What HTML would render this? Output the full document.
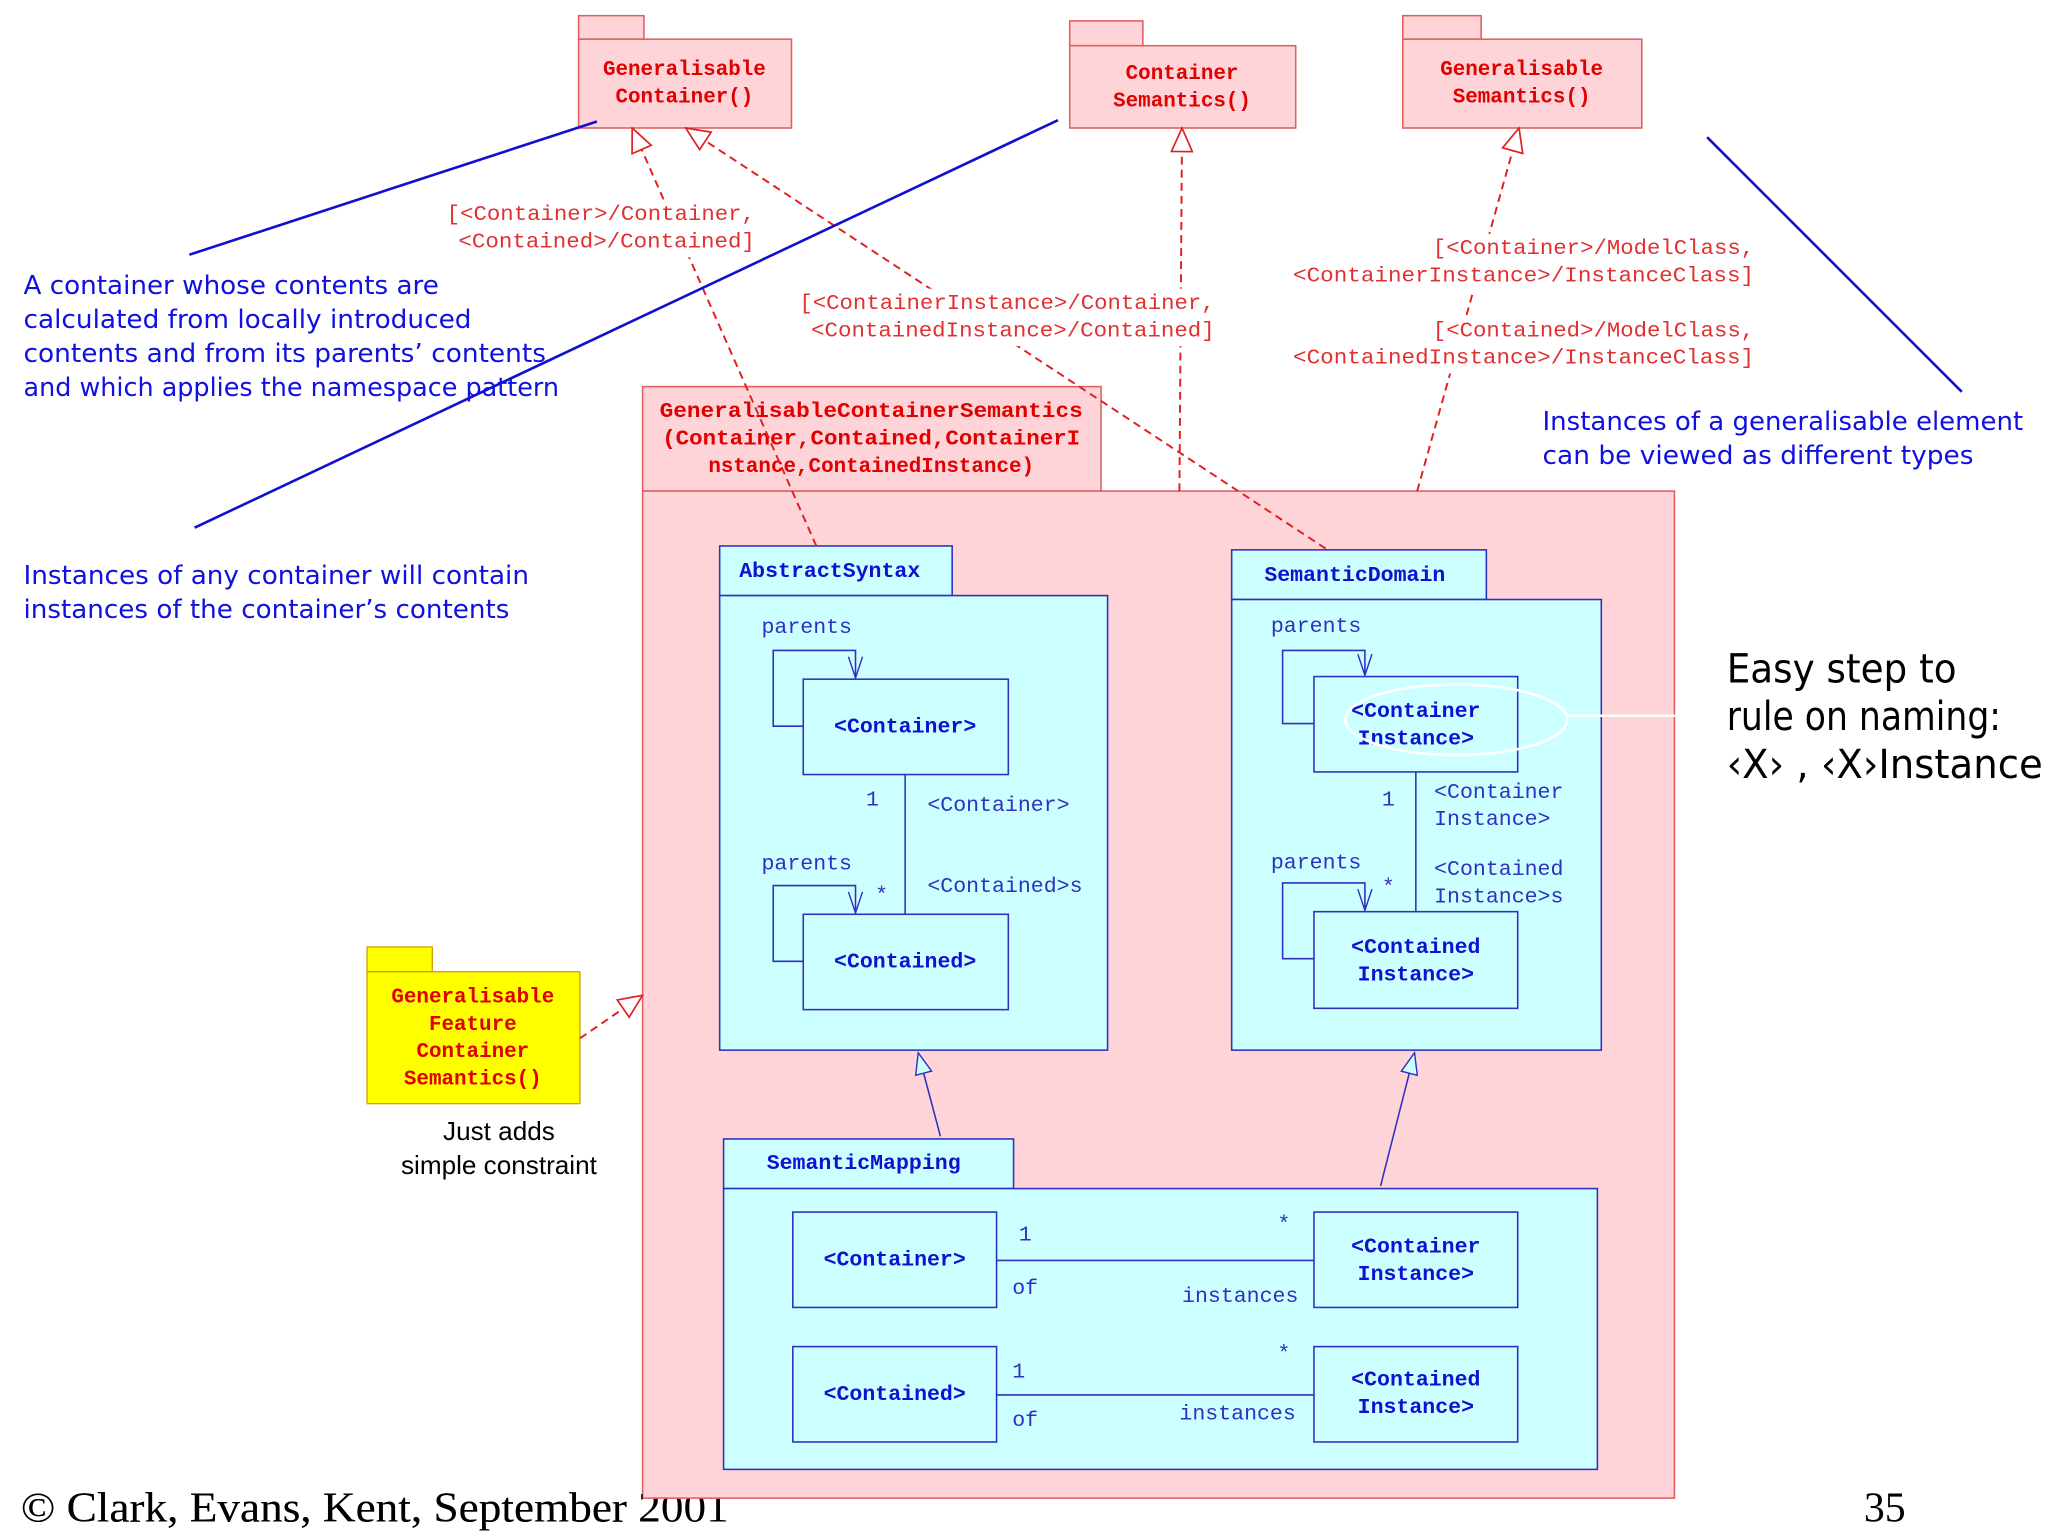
<!DOCTYPE html>
<html><head><meta charset="utf-8"><style>
html,body{margin:0;padding:0;background:#fff;}
svg{display:block;}
.pk{font-family:"Liberation Mono",monospace;font-weight:bold;font-size:16px;fill:#e00000;}
.rl{font-family:"Liberation Mono",monospace;font-size:16px;fill:#e03030;}
.bb{font-family:"Liberation Mono",monospace;font-weight:bold;font-size:16.5px;fill:#1010d0;}
.bl{font-family:"Liberation Mono",monospace;font-size:16.5px;fill:#3030c0;}
.cm{font-family:"DejaVu Sans","Liberation Sans",sans-serif;font-size:20px;fill:#1010e0;}
.ez{font-family:"DejaVu Sans","Liberation Sans",sans-serif;font-size:31px;fill:#000;}
</style></head><body>
<svg width="2048" height="1536" viewBox="0 0 1568 1176" xmlns="http://www.w3.org/2000/svg">
<defs>
<marker id="tri" viewBox="0 0 20 20" refX="19" refY="10" markerWidth="20" markerHeight="20" markerUnits="userSpaceOnUse" orient="auto">
<path d="M1,2 L19,10 L1,18 Z" fill="#fff" stroke="#e02020" stroke-width="1.3"/></marker>
<marker id="trib" viewBox="0 0 20 20" refX="19" refY="10" markerWidth="18" markerHeight="18" markerUnits="userSpaceOnUse" orient="auto">
<path d="M1,3 L19,10 L1,17 Z" fill="#ccffff" stroke="#3030c0" stroke-width="1.2"/></marker>
<marker id="opn" viewBox="0 0 20 20" refX="19" refY="10" markerWidth="18" markerHeight="18" markerUnits="userSpaceOnUse" orient="auto">
<path d="M1,4 L19,10 L1,16" fill="none" stroke="#3030c0" stroke-width="1.2"/></marker>
</defs>
<rect width="1568" height="1176" fill="#fff"/>

<g font-family="Liberation Serif, serif" font-size="32" dominant-baseline="central">
<text x="16" y="1155" textLength="542" lengthAdjust="spacingAndGlyphs">© Clark, Evans, Kent, September 2001</text>
<text x="1427" y="1155">35</text>
</g>

<!-- top packages -->
<g fill="#ffd4d8" stroke="#e06060" stroke-width="1.2">
<rect x="443" y="12" width="50" height="18"/><rect x="443" y="30" width="163" height="68"/>
<rect x="819" y="16" width="56" height="19"/><rect x="819" y="35" width="173" height="63"/>
<rect x="1074" y="12" width="60" height="18"/><rect x="1074" y="30" width="183" height="68"/>
<rect x="492" y="296" width="351" height="80"/><rect x="492" y="376" width="790" height="771"/>
</g>
<g class="pk" text-anchor="middle" dominant-baseline="central">
<text x="524" y="54">Generalisable</text><text x="524" y="75">Container()</text>
<text x="905" y="57">Container</text><text x="905" y="78">Semantics()</text>
<text x="1165" y="54">Generalisable</text><text x="1165" y="75">Semantics()</text>
<text x="667" y="316" textLength="324" lengthAdjust="spacingAndGlyphs">GeneralisableContainerSemantics</text>
<text x="667" y="337" textLength="320" lengthAdjust="spacingAndGlyphs">(Container,Contained,ContainerI</text>
<text x="667" y="358">nstance,ContainedInstance)</text>
</g>

<!-- yellow package -->
<rect x="281" y="725" width="50" height="19" fill="#ffff00" stroke="#d0a000"/>
<rect x="281" y="744" width="163" height="101" fill="#ffff00" stroke="#d0a000"/>
<g class="pk" text-anchor="middle" dominant-baseline="central">
<text x="362" y="764">Generalisable</text><text x="362" y="785">Feature</text>
<text x="362" y="806">Container</text><text x="362" y="827">Semantics()</text>
</g>

<!-- cyan packages -->
<g fill="#ccffff" stroke="#3030c0" stroke-width="1.2">
<rect x="551" y="418" width="178" height="38"/><rect x="551" y="456" width="297" height="348"/>
<rect x="943" y="421" width="195" height="38"/><rect x="943" y="459" width="283" height="345"/>
<rect x="554" y="872" width="222" height="38"/><rect x="554" y="910" width="669" height="215"/>
<rect x="615" y="520" width="157" height="73"/><rect x="615" y="700" width="157" height="73"/>
<rect x="1006" y="518" width="156" height="73"/><rect x="1006" y="698" width="156" height="74"/>
<rect x="607" y="928" width="156" height="73"/><rect x="1006" y="928" width="156" height="73"/>
<rect x="607" y="1031" width="156" height="73"/><rect x="1006" y="1031" width="156" height="73"/>
</g>
<g fill="none" stroke="#3030c0" stroke-width="1.2">
<path d="M615,556 H592 V498 H655 V519" marker-end="url(#opn)"/>
<path d="M615,736 H592 V678 H655 V699" marker-end="url(#opn)"/>
<path d="M1006,554 H982 V498 H1045 V517" marker-end="url(#opn)"/>
<path d="M1006,734 H982 V676 H1045 V697" marker-end="url(#opn)"/>
<line x1="693" y1="593" x2="693" y2="700"/><line x1="1084" y1="591" x2="1084" y2="698"/>
<line x1="763" y1="965" x2="1006" y2="965"/><line x1="763" y1="1068" x2="1006" y2="1068"/>
<line x1="720" y1="870" x2="703" y2="806" marker-end="url(#trib)"/>
<line x1="1057" y1="908" x2="1083" y2="806" marker-end="url(#trib)"/>
</g>
<g class="bb" dominant-baseline="central">
<text x="566" y="438">AbstractSyntax</text><text x="968" y="441">SemanticDomain</text><text x="587" y="891">SemanticMapping</text>
</g>
<g class="bb" text-anchor="middle" dominant-baseline="central">
<text x="693" y="557">&lt;Container&gt;</text><text x="693" y="737">&lt;Contained&gt;</text>
<text x="1084" y="545">&lt;Container</text><text x="1084" y="566">Instance&gt;</text>
<text x="1084" y="726">&lt;Contained</text><text x="1084" y="747">Instance&gt;</text>
<text x="685" y="965">&lt;Container&gt;</text><text x="685" y="1068">&lt;Contained&gt;</text>
<text x="1084" y="955">&lt;Container</text><text x="1084" y="976">Instance&gt;</text>
<text x="1084" y="1057">&lt;Contained</text><text x="1084" y="1078">Instance&gt;</text>
</g>
<g class="bl" dominant-baseline="central">
<text x="583" y="481">parents</text><text x="583" y="662">parents</text>
<text x="973" y="480">parents</text><text x="973" y="661">parents</text>
<text x="663" y="613">1</text><text x="670" y="686">*</text>
<text x="710" y="617">&lt;Container&gt;</text><text x="710" y="679">&lt;Contained&gt;s</text>
<text x="1058" y="613">1</text><text x="1058" y="680">*</text>
<text x="1098" y="607">&lt;Container</text><text x="1098" y="628">Instance&gt;</text>
<text x="1098" y="666">&lt;Contained</text><text x="1098" y="687">Instance&gt;s</text>
<text x="780" y="946">1</text><text x="978" y="938">*</text><text x="775" y="987">of</text><text x="905" y="993">instances</text>
<text x="775" y="1051">1</text><text x="978" y="1037">*</text><text x="775" y="1088">of</text><text x="903" y="1083">instances</text>
</g>
<ellipse cx="1115" cy="551" rx="85" ry="27" fill="none" stroke="#fff" stroke-width="2"/>
<line x1="1200" y1="548" x2="1283" y2="548" stroke="#fff" stroke-width="2"/>

<!-- red dashed dependencies -->
<g fill="none" stroke="#e02020" stroke-width="1.5" stroke-dasharray="6,4">
<line x1="625" y1="418" x2="484" y2="98" marker-end="url(#tri)"/>
<line x1="1015" y1="420" x2="525" y2="98" marker-end="url(#tri)"/>
<line x1="903" y1="376" x2="905" y2="98" marker-end="url(#tri)"/>
<line x1="1085" y1="376" x2="1163" y2="98" marker-end="url(#tri)"/>
<line x1="444" y1="795" x2="492" y2="762" marker-end="url(#tri)"/>
</g>
<g fill="#fff">
<rect x="340" y="153" width="240" height="44"/>
<rect x="610" y="221" width="322" height="44"/>
<rect x="988" y="179" width="357" height="44"/>
<rect x="988" y="242" width="357" height="44"/>
</g>
<g class="rl" dominant-baseline="central">
<text x="342" y="165" textLength="236" lengthAdjust="spacingAndGlyphs">[&lt;Container&gt;/Container,</text>
<text x="351" y="186" textLength="227" lengthAdjust="spacingAndGlyphs">&lt;Contained&gt;/Contained]</text>
<text x="612" y="233" textLength="318" lengthAdjust="spacingAndGlyphs">[&lt;ContainerInstance&gt;/Container,</text>
<text x="621" y="254" textLength="309" lengthAdjust="spacingAndGlyphs">&lt;ContainedInstance&gt;/Contained]</text>
<text x="1097" y="191" textLength="246" lengthAdjust="spacingAndGlyphs">[&lt;Container&gt;/ModelClass,</text>
<text x="990" y="212" textLength="353" lengthAdjust="spacingAndGlyphs">&lt;ContainerInstance&gt;/InstanceClass]</text>
<text x="1097" y="254" textLength="246" lengthAdjust="spacingAndGlyphs">[&lt;Contained&gt;/ModelClass,</text>
<text x="990" y="275" textLength="353" lengthAdjust="spacingAndGlyphs">&lt;ContainedInstance&gt;/InstanceClass]</text>
</g>

<!-- blue annotation lines -->
<g stroke="#1010d0" stroke-width="2">
<line x1="145" y1="195" x2="457" y2="93"/>
<line x1="149" y1="404" x2="810" y2="92"/>
<line x1="1307" y1="105" x2="1502" y2="300"/>
</g>
<g class="cm" dominant-baseline="central">
<text x="18" y="219" textLength="318" lengthAdjust="spacingAndGlyphs">A container whose contents are</text>
<text x="18" y="245" textLength="343" lengthAdjust="spacingAndGlyphs">calculated from locally introduced</text>
<text x="18" y="271" textLength="400" lengthAdjust="spacingAndGlyphs">contents and from its parents’ contents</text>
<text x="18" y="297" textLength="410" lengthAdjust="spacingAndGlyphs">and which applies the namespace pattern</text>
<text x="18" y="441" textLength="387" lengthAdjust="spacingAndGlyphs">Instances of any container will contain</text>
<text x="18" y="467" textLength="372" lengthAdjust="spacingAndGlyphs">instances of the container’s contents</text>
<text x="1181" y="323" textLength="368" lengthAdjust="spacingAndGlyphs">Instances of a generalisable element</text>
<text x="1181" y="349" textLength="330" lengthAdjust="spacingAndGlyphs">can be viewed as different types</text>
</g>
<g class="ez" dominant-baseline="central">
<text x="1322" y="512" textLength="176" lengthAdjust="spacingAndGlyphs">Easy step to</text>
<text x="1322" y="548" textLength="210" lengthAdjust="spacingAndGlyphs">rule on naming:</text>
<text x="1322" y="585" textLength="242" lengthAdjust="spacingAndGlyphs">‹X› , ‹X›Instance</text>
</g>
<g font-family="Liberation Sans, sans-serif" font-size="20" text-anchor="middle" dominant-baseline="central">
<text x="382" y="866">Just adds</text><text x="382" y="892">simple constraint</text>
</g>
<!-- footer part inside the package hidden as in reference; keep left part visible -->
<g font-family="Liberation Serif, serif" font-size="32" dominant-baseline="central">
<clipPath id="fc"><rect x="0" y="1130" width="492" height="46"/></clipPath>
<text x="16" y="1155" textLength="542" lengthAdjust="spacingAndGlyphs" clip-path="url(#fc)">© Clark, Evans, Kent, September 2001</text>
</g>
</svg>
</body></html>
